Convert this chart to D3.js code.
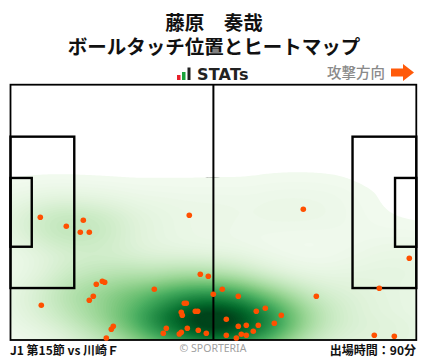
<!DOCTYPE html>
<html><head><meta charset="utf-8">
<script src="https://cdn.jsdelivr.net/npm/d3@7"></script>
<style>html,body{margin:0;padding:0;background:#fff;}svg{display:block;}</style>
</head><body>
<svg id="c" width="428" height="359"></svg>
<script>
const titleName = "藤原　奏哉";
const titleSub = "ボールタッチ位置とヒートマップ";
const brandText = "STATs";
const directionText = "攻撃方向";
const matchText = "J1 第15節 vs 川崎Ｆ";
const creditText = "© SPORTERIA";
const minutesText = "出場時間：90分";
// pitch size in metres
const pitchLength = 105, pitchWidth = 68;
// ball touch positions, metres from the left goal line (x) and the top touchline (y)
const touchX = [7.71,14.44,18.84,18.06,20.39,22.20,23.75,24.37,21.42,20.39,7.97,26.60,26.08,24.79,
  46.26,49.11,51.18,37.21,52.47,54.80,58.94,44.97,45.49,44.19,44.45,47.82,48.44,40.31,39.54,44.19,
  43.68,45.75,48.59,50.66,63.60,65.93,70.07,55.84,68.26,58.94,61.01,64.12,62.82,59.72,61.01,55.84,
  58.43,75.76,103.19,95.43,79.13,94.13,99.31];
const touchY = [35.32,37.72,36.12,39.31,39.31,53.16,52.36,52.63,56.36,57.42,58.76,64.35,65.15,67.47,
  34.79,50.50,51.03,54.49,55.83,54.49,56.36,58.22,58.22,60.62,61.42,60.36,60.36,64.88,66.21,65.95,
  66.40,64.88,65.42,66.21,60.36,59.56,61.42,62.49,63.55,64.35,64.08,64.08,65.68,66.48,66.75,66.75,
  67.47,33.19,46.24,54.23,56.36,66.75,67.01];

const svg = d3.select("#c");
const W = 428, H = 359;
const x0 = 10.5, x1 = 416.3, y0 = 84.7, y1 = 340;
const xs = d3.scaleLinear().domain([0, pitchLength]).range([x0, x1]);
const ys = d3.scaleLinear().domain([0, pitchWidth]).range([y0, y1]);
const touches = touchX.map((x, i) => ({x, y: touchY[i]}));

const jp = "'Noto Sans CJK JP','Noto Sans',sans-serif";
const jpTight = "'Liberation Sans','Noto Sans CJK JP',sans-serif";

// titles
svg.append("text").attr("x", 214).attr("y", 30).attr("text-anchor", "middle")
  .attr("font-family", jpTight).attr("font-weight", "bold").attr("font-size", 19.5).attr("fill", "#111").text(titleName);
svg.append("text").attr("x", 214).attr("y", 54).attr("text-anchor", "middle")
  .attr("font-family", jpTight).attr("font-weight", "bold").attr("font-size", 19.5).attr("fill", "#111").text(titleSub);

// brand logo
const logo = svg.append("g");
logo.append("rect").attr("x", 177).attr("y", 75).attr("width", 3.5).attr("height", 5).attr("fill", "#e8202a");
logo.append("rect").attr("x", 182).attr("y", 72).attr("width", 3.5).attr("height", 8).attr("fill", "#1aa33a");
logo.append("rect").attr("x", 187.5).attr("y", 67.5).attr("width", 3).attr("height", 12.5).attr("fill", "#222");
svg.append("text").attr("x", 197).attr("y", 80).attr("font-family", "'DejaVu Sans',sans-serif")
  .attr("font-weight", "bold").attr("font-size", 16).attr("letter-spacing", 0.2).attr("fill", "#222").text(brandText);

// direction
svg.append("text").attr("x", 385).attr("y", 78).attr("text-anchor", "end")
  .attr("font-family", jp).attr("font-weight", 500).attr("font-size", 14.5).attr("fill", "#8a8a8a").text(directionText);
svg.append("path").attr("d", "M391,68.5 L403,68.5 L403,64 L414,72.5 L403,81 L403,76.5 L391,76.5 Z").attr("fill", "#ff5a0a");

// clip
svg.append("clipPath").attr("id", "fc").append("rect")
  .attr("x", x0).attr("y", y0).attr("width", x1 - x0).attr("height", y1 - y0);

const sx = (x1 - x0) / pitchLength, sy = (y1 - y0) / pitchWidth;
// under-layer lines (center circle, penalty arcs)
const under = svg.append("g").attr("fill", "none").attr("stroke", "#000").attr("stroke-width", 2);
under.append("ellipse").attr("cx", xs(52.5)).attr("cy", ys(34)).attr("rx", 9.15 * sx).attr("ry", 9.15 * sy);
const arcAng = Math.acos(5.5 / 9.15);
function arcPath(cxm, dir) {
  const pts = d3.range(-arcAng, arcAng + 0.001, arcAng / 20).map(a => [xs(cxm + dir * 9.15 * Math.cos(a)), ys(34 + 9.15 * Math.sin(a))]);
  return d3.line()(pts);
}
under.append("path").attr("d", arcPath(11, 1));
under.append("path").attr("d", arcPath(pitchLength - 11, -1));

// heatmap: anisotropic Gaussian KDE (y stretched by k, then squeezed back)
const bwX = 42, bwY = 20, k = bwX / bwY;
const dens = d3.contourDensity().x(d => xs(d.x)).y(d => ys(d.y) * k)
  .size([W, (H + 40) * k]).bandwidth(bwX).cellSize(3).thresholds(40);
let cs = dens(touches);
const maxV = d3.max(cs, c => c.value) * 1.05;
const thr = d3.range(0.011, 1.0001, 0.011).map(t => t * maxV);
cs = dens.thresholds(thr)(touches);
const col = d3.scaleSequential(t => d3.interpolateGreens(t)).domain([-0.03 * maxV, maxV * 0.92]);
svg.append("g").attr("clip-path", "url(#fc)").append("g").attr("transform", `scale(1,${1 / k})`)
  .selectAll("path").data(cs).join("path")
  .attr("d", d3.geoPath()).attr("fill", d => col(d.value)).attr("stroke", "none");

// pitch lines
const lines = svg.append("g").attr("fill", "none").attr("stroke", "#000");
lines.append("rect").attr("x", x0).attr("y", y0).attr("width", x1 - x0).attr("height", y1 - y0).attr("stroke-width", 1.8);
lines.append("line").attr("x1", xs(52.5)).attr("x2", xs(52.5)).attr("y1", y0).attr("y2", y1).attr("stroke-width", 2);
const box = (xa, xb, h) => lines.append("rect").attr("x", xs(Math.min(xa, xb))).attr("y", ys(34 - h / 2))
  .attr("width", Math.abs(xs(xb) - xs(xa))).attr("height", ys(34 + h / 2) - ys(34 - h / 2)).attr("stroke-width", 2.4);
box(0, 16.5, 40.32); box(0, 5.5, 18.32);
box(pitchLength - 16.5, pitchLength, 40.32); box(pitchLength - 5.5, pitchLength, 18.32);

// touches
svg.append("g").selectAll("circle").data(touches).join("circle")
  .attr("cx", d => xs(d.x)).attr("cy", d => ys(d.y)).attr("r", 2.8).attr("fill", "#ff5000");

// footer
svg.append("text").attr("x", 10).attr("y", 355).attr("font-family", jp).attr("font-weight", "bold")
  .attr("font-size", 12).attr("fill", "#111").text(matchText);
svg.append("text").attr("x", 213).attr("y", 352).attr("text-anchor", "middle").attr("font-family", "'Noto Sans',sans-serif")
  .attr("font-size", 10.5).attr("fill", "#a0a0a0").text(creditText);
svg.append("text").attr("x", 416).attr("y", 355).attr("text-anchor", "end").attr("font-family", jp).attr("font-weight", "bold")
  .attr("font-size", 12).attr("fill", "#111").text(minutesText);
</script>
</body></html>
